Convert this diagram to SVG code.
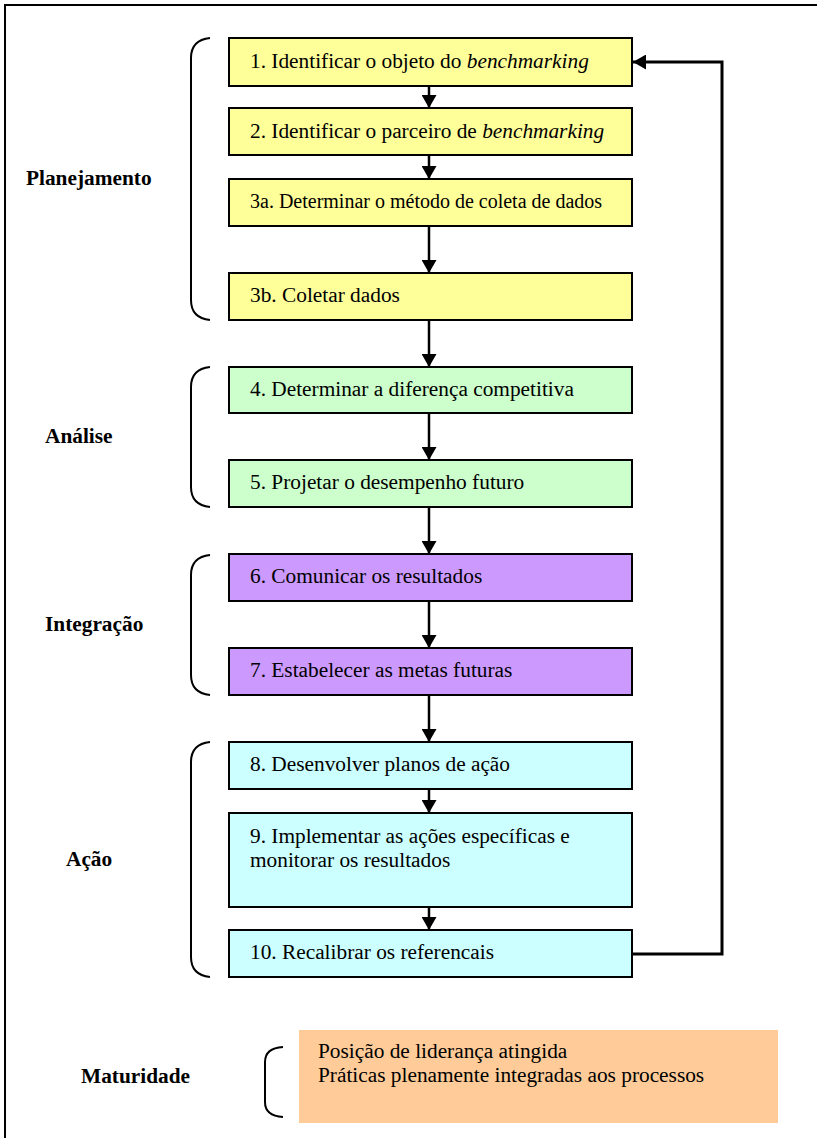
<svg xmlns="http://www.w3.org/2000/svg" width="817" height="1138" viewBox="0 0 817 1138">
  <style>
    .frame { fill: #ffffff; stroke: #000000; stroke-width: 2; }
    .box { stroke: #000000; stroke-width: 2; }
    .plan { fill: #FFFF99; }
    .anal { fill: #CCFFCC; }
    .integ { fill: #CC99FF; }
    .acao { fill: #CCFFFF; }
    .mat { fill: #FFCC99; }
    .txt { font-family: "Liberation Serif", "Times New Roman", serif; font-size: 21.33px; fill: #000000; }
    .small { font-size: 20px; }
    .lbl { font-family: "Liberation Serif", "Times New Roman", serif; font-size: 21.33px; font-weight: bold; fill: #000000; }
    .brace { fill: none; stroke: #000000; stroke-width: 2; }
    .link { fill: none; stroke: #000000; stroke-width: 2.5; }
    .loop { fill: none; stroke: #000000; stroke-width: 3; }
  </style>
  <defs>
    <marker id="arrow" markerUnits="userSpaceOnUse" viewBox="0 0 13 15" markerWidth="13" markerHeight="15" refX="13" refY="7.5" orient="auto">
      <path d="M0,0 L13,7.5 L0,15 Z" fill="#000000"/>
    </marker>
  </defs>

  <!-- outer frame (right and bottom edges run off the page) -->
  <rect class="frame" x="5" y="5" width="900" height="1200"/>

  <!-- phase labels with their braces -->
  <g id="fase-planejamento">
    <text class="lbl" x="26" y="185">Planejamento</text>
    <path class="brace" d="M210,38 Q191,40 191,58 L191,300 Q191,318 210,320"/>
  </g>
  <g id="fase-analise">
    <text class="lbl" x="45" y="443">Análise</text>
    <path class="brace" d="M210,367 Q191,369 191,387 L191,487 Q191,505 210,507"/>
  </g>
  <g id="fase-integracao">
    <text class="lbl" x="45" y="631">Integração</text>
    <path class="brace" d="M210,555 Q191,557 191,575 L191,675 Q191,693 210,695"/>
  </g>
  <g id="fase-acao">
    <text class="lbl" x="66" y="866">Ação</text>
    <path class="brace" d="M210,742 Q191,744 191,762 L191,957 Q191,975 210,977"/>
  </g>
  <g id="fase-maturidade">
    <text class="lbl" x="81" y="1083">Maturidade</text>
    <path class="brace" d="M283,1047 Q265,1048 265,1062 L265,1102 Q265,1116 283,1117"/>
  </g>

  <!-- process steps -->
  <g id="passo-1">
    <rect class="box plan" x="229" y="38" width="403" height="48"/>
    <text class="txt" x="250" y="68">1. Identificar o objeto do <tspan font-style="italic">benchmarking</tspan></text>
  </g>
  <g id="passo-2">
    <rect class="box plan" x="229" y="108" width="403" height="47"/>
    <text class="txt" x="250" y="138">2. Identificar o parceiro de <tspan font-style="italic">benchmarking</tspan></text>
  </g>
  <g id="passo-3a">
    <rect class="box plan" x="229" y="179" width="403" height="47"/>
    <text class="txt small" x="250" y="208">3a. Determinar o método de coleta de dados</text>
  </g>
  <g id="passo-3b">
    <rect class="box plan" x="229" y="273" width="403" height="47"/>
    <text class="txt" x="250" y="302">3b. Coletar dados</text>
  </g>
  <g id="passo-4">
    <rect class="box anal" x="229" y="367" width="403" height="46"/>
    <text class="txt" x="250" y="396">4. Determinar a diferença competitiva</text>
  </g>
  <g id="passo-5">
    <rect class="box anal" x="229" y="460" width="403" height="47"/>
    <text class="txt" x="250" y="489">5. Projetar o desempenho futuro</text>
  </g>
  <g id="passo-6">
    <rect class="box integ" x="229" y="554" width="403" height="47"/>
    <text class="txt" x="250" y="583">6. Comunicar os resultados</text>
  </g>
  <g id="passo-7">
    <rect class="box integ" x="229" y="648" width="403" height="47"/>
    <text class="txt" x="250" y="677">7. Estabelecer as metas futuras</text>
  </g>
  <g id="passo-8">
    <rect class="box acao" x="229" y="742" width="403" height="47"/>
    <text class="txt" x="250" y="771">8. Desenvolver planos de ação</text>
  </g>
  <g id="passo-9">
    <rect class="box acao" x="229" y="813" width="403" height="94"/>
    <text class="txt" x="250" y="843">9. Implementar as ações específicas e</text>
    <text class="txt" x="250" y="867">monitorar os resultados</text>
  </g>
  <g id="passo-10">
    <rect class="box acao" x="229" y="930" width="403" height="47"/>
    <text class="txt" x="250" y="959">10. Recalibrar os referencais</text>
  </g>
  <g id="maturidade">
    <rect class="mat" x="299" y="1030" width="479" height="93"/>
    <text class="txt" x="318" y="1058">Posição de liderança atingida</text>
    <text class="txt" x="318" y="1082">Práticas plenamente integradas aos processos</text>
  </g>

  <!-- connectors -->
  <g id="conectores">
    <line class="link" x1="429" y1="86" x2="429" y2="108" marker-end="url(#arrow)"/>
    <line class="link" x1="429" y1="155" x2="429" y2="179" marker-end="url(#arrow)"/>
    <line class="link" x1="429" y1="226" x2="429" y2="273" marker-end="url(#arrow)"/>
    <line class="link" x1="429" y1="320" x2="429" y2="367" marker-end="url(#arrow)"/>
    <line class="link" x1="429" y1="413" x2="429" y2="460" marker-end="url(#arrow)"/>
    <line class="link" x1="429" y1="507" x2="429" y2="554" marker-end="url(#arrow)"/>
    <line class="link" x1="429" y1="601" x2="429" y2="648" marker-end="url(#arrow)"/>
    <line class="link" x1="429" y1="695" x2="429" y2="742" marker-end="url(#arrow)"/>
    <line class="link" x1="429" y1="789" x2="429" y2="813" marker-end="url(#arrow)"/>
    <line class="link" x1="429" y1="907" x2="429" y2="930" marker-end="url(#arrow)"/>
    <polyline class="loop" points="632,954 722,954 722,62 633,62" marker-end="url(#arrow)"/>
  </g>
</svg>
